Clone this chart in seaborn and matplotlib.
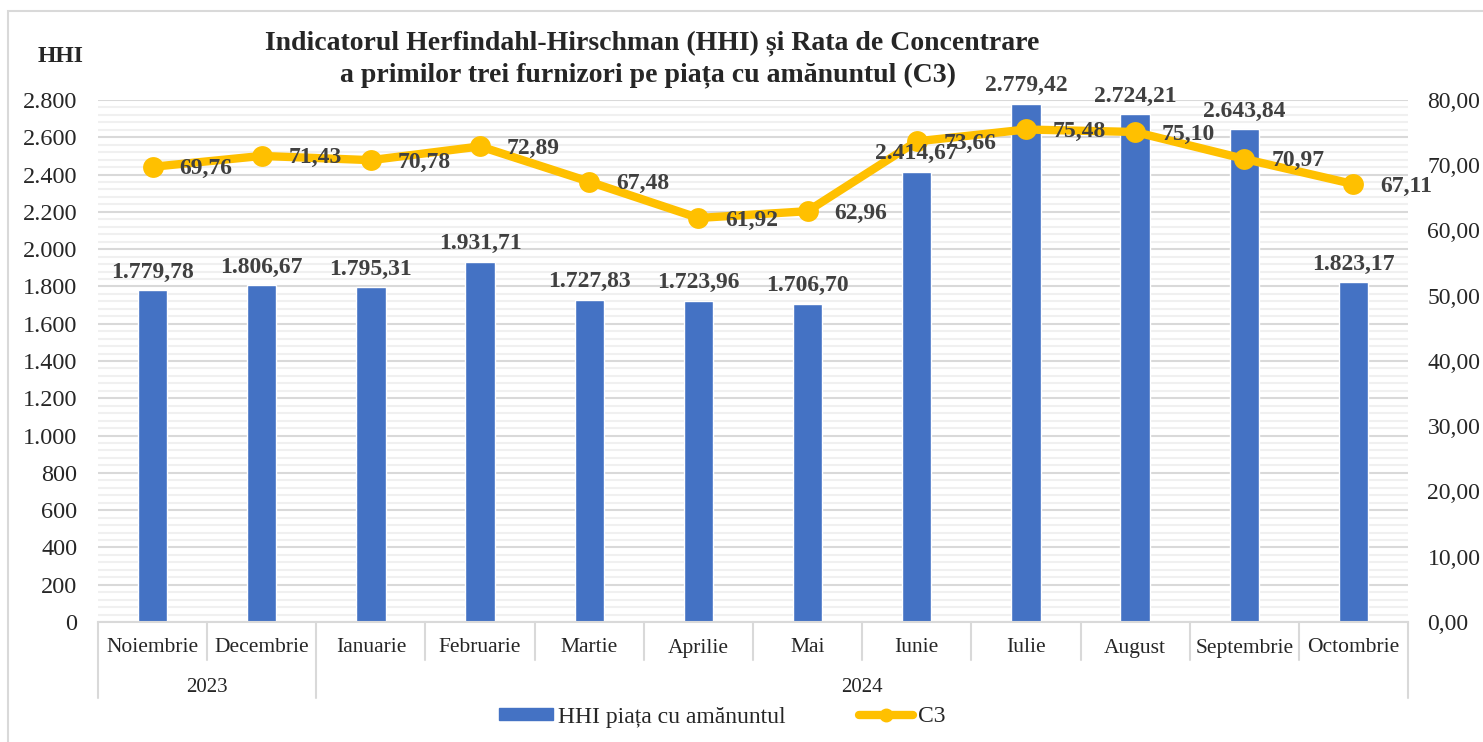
import matplotlib
matplotlib.use("Agg")
import matplotlib.pyplot as plt
import matplotlib.transforms as mtransforms
from matplotlib.lines import Line2D
from matplotlib.patches import Patch, Rectangle
from matplotlib.ticker import FuncFormatter, MultipleLocator
import numpy as np
import pandas as pd
import seaborn as sns

# Date
luni = ['Noiembrie', 'Decembrie', 'Ianuarie', 'Februarie', 'Martie', 'Aprilie',
        'Mai', 'Iunie', 'Iulie', 'August', 'Septembrie', 'Octombrie']
ani = ['2023', '2024']
luni_pe_an = [2, 10]
hhi = [1779.78, 1806.67, 1795.31, 1931.71, 1727.83, 1723.96,
       1706.70, 2414.67, 2779.42, 2724.21, 2643.84, 1823.17]
c3 = [69.76, 71.43, 70.78, 72.89, 67.48, 61.92,
      62.96, 73.66, 75.48, 75.10, 70.97, 67.11]

titlu = ["Indicatorul Herfindahl-Hirschman (HHI) și Rata de Concentrare",
         "a primilor trei furnizori pe piața cu amănuntul (C3)"]

ALBASTRU = '#4472C4'
GALBEN = '#FFC000'
TEXT = '#404040'
GRI = '#D9D9D9'


def ro(v, dec=2):
    s = f"{v:,.{dec}f}"
    return s.replace(",", "X").replace(".", ",").replace("X", ".")


sns.set_style("white")
plt.rcParams['font.family'] = ['Liberation Serif', 'DejaVu Serif']

df = pd.DataFrame({'luna': luni, 'hhi': hhi, 'c3': c3, 'poz': np.arange(len(luni))})

fig = plt.figure(figsize=(14.83, 7.42), dpi=100)
ax = fig.add_axes([98 / 1483, 1 - 622 / 742, 1310 / 1483, 522 / 742])

sns.barplot(data=df, x='luna', y='hhi', color=ALBASTRU, width=0.27,
            saturation=1, ax=ax, zorder=2)
ax.set_xlim(-0.5, len(luni) - 0.5)
ax.set_ylim(0, 2800)
ax.yaxis.set_major_locator(MultipleLocator(200))
ax.yaxis.set_minor_locator(MultipleLocator(40))
ax.yaxis.set_major_formatter(FuncFormatter(lambda v, p: ro(v, 0)))
ax.grid(which='major', axis='y', color=GRI, lw=1.5)
ax.grid(which='minor', axis='y', color='#F0F0F0', lw=1.5)
ax.set_axisbelow(True)
ax.tick_params(axis='y', which='both', length=0, labelsize=17.5, pad=15)
ax.set_xticks([])
ax.set_xlabel('')
ax.set_ylabel('')
for s in ['top', 'right', 'left']:
    ax.spines[s].set_visible(False)
ax.spines['bottom'].set_color(GRI)
ax.spines['bottom'].set_linewidth(1.5)

ax2 = ax.twinx()
sns.lineplot(data=df, x='poz', y='c3', color=GALBEN, lw=6, marker='o',
             markersize=15, markeredgewidth=0, ax=ax2, zorder=3)
ax2.set_ylim(0, 80)
ax2.yaxis.set_major_locator(MultipleLocator(10))
ax2.yaxis.set_major_formatter(FuncFormatter(lambda v, p: ro(v, 2)))
ax2.tick_params(axis='y', length=0, labelsize=17, pad=14)
ax2.set_ylabel('')
ax2.set_xlabel('')
for s in ax2.spines.values():
    s.set_visible(False)

# etichete de date
for i, v in enumerate(hhi):
    ax2.annotate(ro(v), (i, v), xycoords=ax.transData, xytext=(0, 18),
                 textcoords='offset pixels', ha='center', va='center',
                 fontsize=17, fontweight='bold', color=TEXT, zorder=5)
for i, v in enumerate(c3):
    ax2.annotate(ro(v), (i, v), xytext=(27, -2), textcoords='offset pixels',
                 ha='left', va='center', fontsize=17, fontweight='bold',
                 color=TEXT, zorder=5)

# axa categoriilor pe doua niveluri
tr = mtransforms.blended_transform_factory(ax.transData, ax.transAxes)
for i, l in enumerate(luni):
    ax.text(i, -26 / 522, l, transform=tr, ha='center', va='center',
            fontsize=15.5)
margini = np.cumsum([0] + luni_pe_an) - 0.5
for k in range(len(luni) + 1):
    jos = -76 / 522 if (k - 0.5) in margini else -38 / 522
    ax.add_line(Line2D([k - 0.5, k - 0.5], [0, jos], transform=tr, color=GRI,
                       lw=1.5, clip_on=False))
for an, a, b in zip(ani, margini[:-1], margini[1:]):
    ax.text((a + b) / 2, -65 / 522, an, transform=tr, ha='center', va='center',
            fontsize=15)

# titlu si eticheta axei
fig.text(652 / 1483, 1 - 43 / 742, titlu[0], ha='center', va='center',
         fontsize=20, fontweight='bold')
fig.text(648 / 1483, 1 - 75 / 742, titlu[1], ha='center', va='center',
         fontsize=20, fontweight='bold')
fig.text(61 / 1483, 1 - 57 / 742, 'HHI', ha='center', va='center',
         fontsize=17, fontweight='bold')

# legenda
h1 = Patch(color=ALBASTRU, label='HHI piața cu amănuntul')
h2 = Line2D([], [], color=GALBEN, lw=6, marker='o', markersize=9, label='C3')
fig.legend(handles=[h1, h2], loc='center', bbox_to_anchor=(0.487, 1 - 717 / 742),
           ncol=2, frameon=False, fontsize=17, handlelength=2.3,
           handleheight=0.45, handletextpad=0.2, columnspacing=3.1)

fig.patches.append(Rectangle((8 / 1483, -0.05), 1.1, 1 - 11 / 742 + 0.05,
                             transform=fig.transFigure, fill=False,
                             edgecolor=GRI, lw=1.5))

fig.savefig("out.png", dpi=100)
